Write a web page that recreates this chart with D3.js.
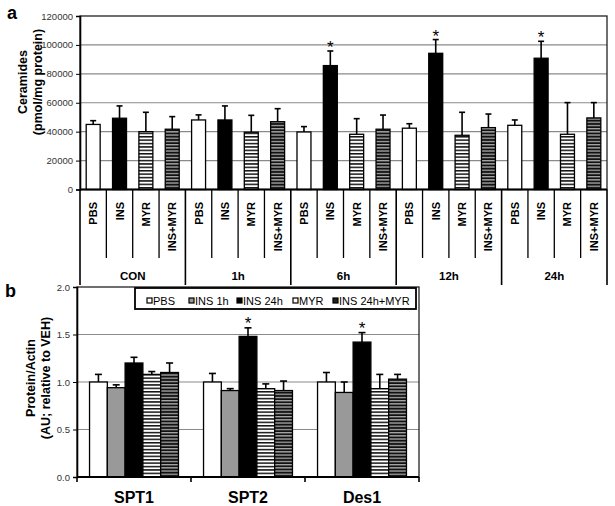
<!DOCTYPE html>
<html><head><meta charset="utf-8">
<script src="https://cdn.jsdelivr.net/npm/d3@7"></script>
<style>body{margin:0;background:#fff}svg{display:block;font-family:Arial,"Liberation Sans",sans-serif}</style>
</head><body><svg id="c" width="615" height="506"></svg>
<script>
// ---- Panel a data ----
const groupsA = ["CON", "1h", "6h", "12h", "24h"];
const treatA = ["PBS", "INS", "MYR", "INS+MYR"];
const meanA = [
  [45000, 49300, 40000, 41700],
  [48100, 48100, 39600, 46900],
  [39800, 85700, 38200, 41700],
  [42400, 94200, 37500, 42800],
  [44400, 90800, 38200, 49500]
];
const errA = [
  [2600, 8500, 13400, 8700],
  [3500, 9700, 11700, 9000],
  [3700, 10100, 10800, 9800],
  [3100, 9500, 15900, 9400],
  [3700, 11700, 21900, 10600]
];
const sigA = [[0,0,0,0],[0,0,0,0],[0,1,0,0],[0,1,0,0],[0,1,0,0]];
const ticksA = [0, 20000, 40000, 60000, 80000, 100000, 120000];

// ---- Panel b data ----
const catsB = ["SPT1", "SPT2", "Des1"];
const seriesB = ["PBS", "INS 1h", "INS 24h", "MYR", "INS 24h+MYR"];
const meanB = [
  [1.00, 0.94, 1.20, 1.08, 1.10],
  [1.00, 0.91, 1.48, 0.93, 0.91],
  [1.00, 0.89, 1.42, 0.93, 1.03]
];
const errB = [
  [0.08, 0.03, 0.06, 0.03, 0.10],
  [0.09, 0.02, 0.09, 0.05, 0.10],
  [0.10, 0.11, 0.10, 0.15, 0.05]
];
const sigB = [[0,0,0,0,0],[0,0,1,0,0],[0,0,1,0,0]];
const ticksB = [0, 0.5, 1.0, 1.5, 2.0];

const svg = d3.select("#c");
const defs = svg.append("defs");
function stripe(id, bg, fg, h, lw) {
  const p = defs.append("pattern").attr("id", id).attr("patternUnits", "userSpaceOnUse")
    .attr("width", 6).attr("height", h);
  p.append("rect").attr("width", 6).attr("height", h).attr("fill", bg);
  p.append("rect").attr("y", 0).attr("width", 6).attr("height", lw).attr("fill", fg);
}
stripe("pMYR", "#fff", "#111", 3.4, 1.5);
stripe("pIM", "#111", "#aaa", 3.2, 1.3);

const fillA = {"PBS": "#fff", "INS": "#000", "MYR": "url(#pMYR)", "INS+MYR": "url(#pIM)"};
const fillB = {"PBS": "#fff", "INS 1h": "#999", "INS 24h": "#000", "MYR": "url(#pMYR)", "INS 24h+MYR": "url(#pIM)"};

// ================= Panel a =================
const A = {l: 80, r: 607, t: 16, b: 189.5};
const flatA = [];
groupsA.forEach((g, gi) => treatA.forEach((t, ti) => flatA.push({g, gi, t, ti, v: meanA[gi][ti], e: errA[gi][ti], s: sigA[gi][ti]})));
const xA = d3.scaleBand().domain(d3.range(flatA.length)).range([A.l, A.r]).paddingInner(0.47).paddingOuter(0.235);
const yA = d3.scaleLinear().domain([0, 120000]).range([A.b, A.t]);
const gA = svg.append("g");

gA.append("g").selectAll("line").data(ticksA.slice(1, -1)).join("line")
  .attr("x1", A.l).attr("x2", A.r).attr("y1", d => yA(d)).attr("y2", d => yA(d))
  .attr("stroke", "#8a8a8a").attr("stroke-width", 1.2);
gA.append("rect").attr("x", A.l).attr("y", A.t).attr("width", A.r - A.l).attr("height", A.b - A.t)
  .attr("fill", "none").attr("stroke", "#222").attr("stroke-width", 1.3);

const yAxA = gA.append("g").attr("transform", `translate(${A.l},0)`)
  .call(d3.axisLeft(yA).tickValues(ticksA).tickFormat(d3.format("d")).tickSize(4).tickPadding(3));
yAxA.select(".domain").attr("stroke", "#000").attr("stroke-width", 1.6);
yAxA.selectAll(".tick line").attr("stroke", "#000");
yAxA.selectAll(".tick text").attr("font-size", 9.5).attr("fill", "#333").attr("font-family", "Arial, 'Liberation Sans', sans-serif");

// error bars
const ebA = gA.append("g").selectAll("g").data(flatA).join("g");
ebA.append("line").attr("x1", (d, i) => xA(i) + xA.bandwidth() / 2).attr("x2", (d, i) => xA(i) + xA.bandwidth() / 2)
  .attr("y1", d => yA(d.v)).attr("y2", d => yA(d.v + d.e)).attr("stroke", "#000").attr("stroke-width", 1.6);
ebA.append("line").attr("x1", (d, i) => xA(i) + xA.bandwidth() / 2 - 3).attr("x2", (d, i) => xA(i) + xA.bandwidth() / 2 + 3)
  .attr("y1", d => yA(d.v + d.e)).attr("y2", d => yA(d.v + d.e)).attr("stroke", "#000").attr("stroke-width", 1.6);

gA.append("g").selectAll("rect").data(flatA).join("rect")
  .attr("x", (d, i) => xA(i)).attr("width", xA.bandwidth())
  .attr("y", d => yA(d.v)).attr("height", d => yA(0) - yA(d.v))
  .attr("fill", d => fillA[d.t]).attr("stroke", "#000").attr("stroke-width", 1.3);

gA.append("g").selectAll("text").data(flatA.filter(d => d.s)).join("text")
  .attr("x", d => xA(flatA.indexOf(d)) + xA.bandwidth() / 2).attr("y", d => yA(d.v + d.e) + 2)
  .attr("text-anchor", "middle").attr("font-size", 17).attr("fill", "#000").text("*");

// category axis
const step = xA.step();
gA.append("line").attr("x1", A.l).attr("x2", A.r).attr("y1", A.b).attr("y2", A.b).attr("stroke", "#000").attr("stroke-width", 2);
gA.append("g").selectAll("line").data(d3.range(flatA.length + 1)).join("line")
  .attr("x1", i => A.l + i * step).attr("x2", i => A.l + i * step)
  .attr("y1", A.b).attr("y2", i => i % 4 === 0 ? 285 : 258)
  .attr("stroke", "#000").attr("stroke-width", i => i % 4 === 0 ? 1.6 : 1.3);
gA.append("g").selectAll("text").data(flatA).join("text")
  .attr("transform", (d, i) => `translate(${xA(i) + xA.bandwidth() / 2 + 4},202) rotate(-90)`)
  .attr("text-anchor", "end").attr("font-size", 11).attr("font-weight", "bold").text(d => d.t);
gA.append("g").selectAll("text").data(groupsA).join("text")
  .attr("x", (d, i) => A.l + (i * 4 + 2) * step).attr("y", 280)
  .attr("text-anchor", "middle").attr("font-size", 11.5).attr("font-weight", "bold").text(d => d);

gA.append("text").attr("transform", "translate(27,82) rotate(-90)").attr("text-anchor", "middle")
  .attr("font-size", 12.5).attr("font-weight", "bold").text("Ceramides");
gA.append("text").attr("transform", "translate(42,82) rotate(-90)").attr("text-anchor", "middle")
  .attr("font-size", 12.5).attr("font-weight", "bold").text("(pmol/mg protein)");
gA.append("text").attr("x", 7).attr("y", 19).attr("font-size", 18).attr("font-weight", "bold").text("a");

// ================= Panel b =================
const B = {l: 77, r: 419, t: 287, b: 477};
const x0 = d3.scaleBand().domain(catsB).range([B.l, B.r]).paddingInner(0.22).paddingOuter(0.11);
const x1 = d3.scaleBand().domain(seriesB).range([0, x0.bandwidth()]);
const yB = d3.scaleLinear().domain([0, 2]).range([B.b, B.t]);
const gB = svg.append("g");

gB.append("g").selectAll("line").data(ticksB.slice(1, -1)).join("line")
  .attr("x1", B.l).attr("x2", B.r).attr("y1", d => yB(d)).attr("y2", d => yB(d))
  .attr("stroke", "#8a8a8a").attr("stroke-width", 1.2);
gB.append("rect").attr("x", B.l).attr("y", B.t).attr("width", B.r - B.l).attr("height", B.b - B.t)
  .attr("fill", "none").attr("stroke", "#222").attr("stroke-width", 1.3);

const yAxB = gB.append("g").attr("transform", `translate(${B.l},0)`)
  .call(d3.axisLeft(yB).tickValues(ticksB).tickFormat(d3.format(".1f")).tickSize(4).tickPadding(3));
yAxB.select(".domain").attr("stroke", "#000").attr("stroke-width", 1.6);
yAxB.selectAll(".tick line").attr("stroke", "#000");
yAxB.selectAll(".tick text").attr("font-size", 9.5).attr("fill", "#333").attr("font-family", "Arial, 'Liberation Sans', sans-serif");

const flatB = [];
catsB.forEach((c, ci) => seriesB.forEach((s, si) => flatB.push({c, ci, s, si, v: meanB[ci][si], e: errB[ci][si], g: sigB[ci][si]})));
const bx = d => x0(d.c) + x1(d.s);
const ebB = gB.append("g").selectAll("g").data(flatB).join("g");
ebB.append("line").attr("x1", d => bx(d) + x1.bandwidth() / 2).attr("x2", d => bx(d) + x1.bandwidth() / 2)
  .attr("y1", d => yB(d.v)).attr("y2", d => yB(d.v + d.e)).attr("stroke", "#000").attr("stroke-width", 1.6);
ebB.append("line").attr("x1", d => bx(d) + x1.bandwidth() / 2 - 3.5).attr("x2", d => bx(d) + x1.bandwidth() / 2 + 3.5)
  .attr("y1", d => yB(d.v + d.e)).attr("y2", d => yB(d.v + d.e)).attr("stroke", "#000").attr("stroke-width", 1.6);
gB.append("g").selectAll("rect").data(flatB).join("rect")
  .attr("x", bx).attr("width", x1.bandwidth())
  .attr("y", d => yB(d.v)).attr("height", d => yB(0) - yB(d.v))
  .attr("fill", d => fillB[d.s]).attr("stroke", "#000").attr("stroke-width", 1.3);
gB.append("g").selectAll("text").data(flatB.filter(d => d.g)).join("text")
  .attr("x", d => bx(d) + x1.bandwidth() / 2).attr("y", d => yB(d.v + d.e) + 1)
  .attr("text-anchor", "middle").attr("font-size", 17).attr("fill", "#000").text("*");

gB.append("line").attr("x1", B.l).attr("x2", B.r).attr("y1", B.b).attr("y2", B.b).attr("stroke", "#000").attr("stroke-width", 2);
gB.append("g").selectAll("line").data(d3.range(catsB.length + 1)).join("line")
  .attr("x1", i => B.l + i * x0.step()).attr("x2", i => B.l + i * x0.step())
  .attr("y1", B.b).attr("y2", B.b + 5).attr("stroke", "#000").attr("stroke-width", 1.6);
gB.append("g").selectAll("text").data(catsB).join("text")
  .attr("x", d => x0(d) + x0.bandwidth() / 2).attr("y", 503)
  .attr("text-anchor", "middle").attr("font-size", 16).attr("font-weight", "bold").text(d => d);

gB.append("text").attr("transform", "translate(35,378) rotate(-90)").attr("text-anchor", "middle")
  .attr("font-size", 12.5).attr("font-weight", "bold").text("Protein/Actin");
gB.append("text").attr("transform", "translate(50,378) rotate(-90)").attr("text-anchor", "middle")
  .attr("font-size", 12.5).attr("font-weight", "bold").text("(AU; relative to VEH)");
gB.append("text").attr("x", 5).attr("y", 297).attr("font-size", 18).attr("font-weight", "bold").text("b");

// legend
const lg = gB.append("g");
lg.append("rect").attr("x", 135).attr("y", 288).attr("width", 281).attr("height", 21)
  .attr("fill", "#fff").attr("stroke", "#000").attr("stroke-width", 1.8);
const legX = [147, 189, 237, 293, 333];
const li = lg.selectAll("g").data(seriesB).join("g").attr("transform", (d, i) => `translate(${legX[i]},301)`);
li.append("rect").attr("x", 0).attr("y", -3).attr("width", 5).attr("height", 5)
  .attr("fill", d => d === "MYR" ? "#fff" : d === "INS 24h+MYR" ? "#222" : fillB[d]).attr("stroke", "#000").attr("stroke-width", 1.2);
li.append("text").attr("x", 6).attr("y", 4).attr("font-size", 11).text(d => d);
</script></body></html>
